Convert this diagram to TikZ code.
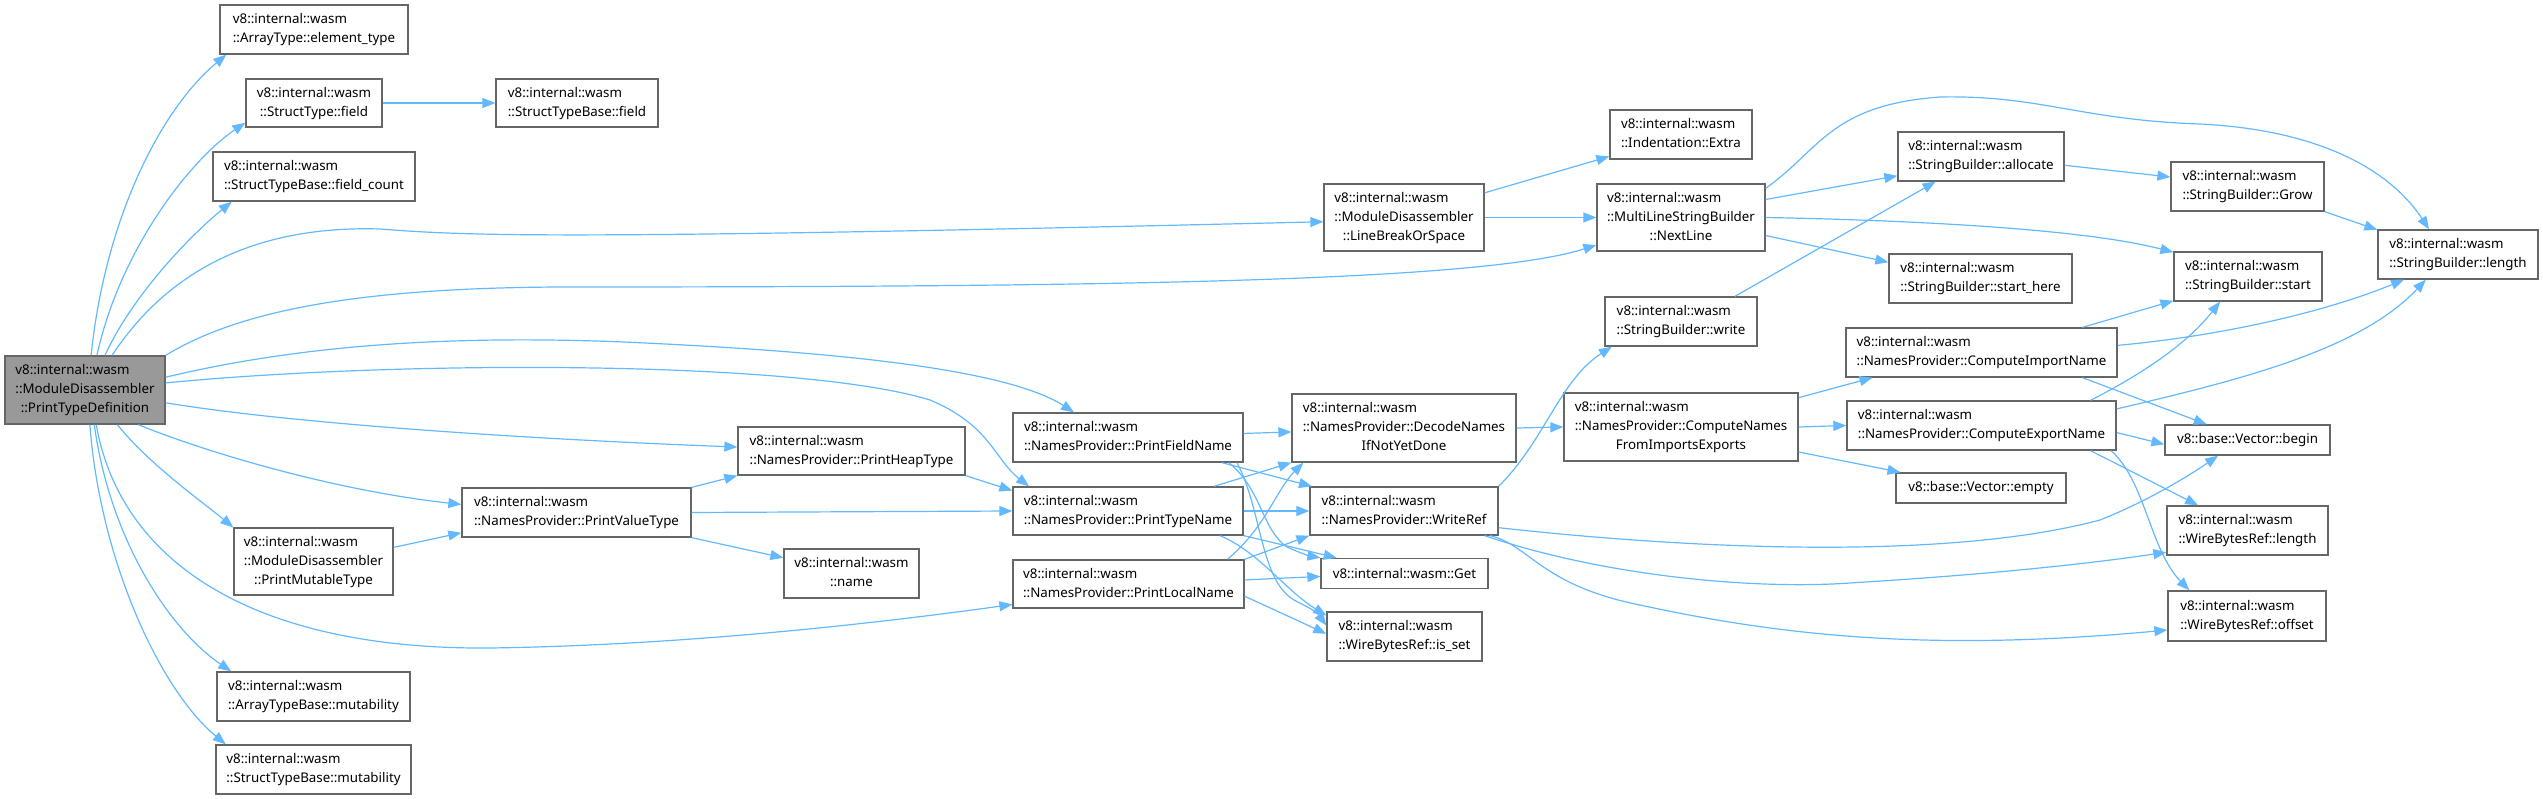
\documentclass[tikz,border=0pt]{standalone}
\usepackage{fontspec}
\setmainfont{Noto Sans}
\usetikzlibrary{arrows.meta}
\definecolor{edgec}{HTML}{63B8FF}
\definecolor{boxc}{HTML}{666666}
\definecolor{mainfill}{HTML}{999999}
\newcommand\lab[2]{\begin{tabular}{@{}l@{}}#1\\\multicolumn{1}{@{}c@{}}{#2}\end{tabular}}
\newcommand\vw{v8::internal::wasm}
\tikzset{
  box/.style={draw=boxc, line width=1.3pt, fill=white, inner sep=0pt, anchor=center,
    font=\fontsize{13.33}{19}\selectfont},
  sz/.style 2 args={minimum width=#1pt, minimum height=#2pt},
  ed/.style={draw=edgec, line width=1.2pt, -{Triangle[length=13pt,width=10pt]}},
}
\begin{document}
\begin{tikzpicture}[x=1pt,y=-1pt]
\useasboundingbox (0,0) rectangle (2543,799);
% nodes
\node[box, sz={160}{68}, fill=mainfill] (main) at (85,390) {\lab{\vw\\::ModuleDisassembler}{::PrintTypeDefinition}};
\node[box, sz={188}{49}] (elem) at (314,29.5) {\lab{\vw}{::ArrayType::element\_type}};
\node[box, sz={136}{48}] (stfield) at (314,103) {\lab{\vw}{::StructType::field}};
\node[box, sz={162}{48}] (stbfield) at (577,103) {\lab{\vw}{::StructTypeBase::field}};
\node[box, sz={202}{49}] (fcount) at (314,176.5) {\lab{\vw}{::StructTypeBase::field\_count}};
\node[box, sz={159}{67}] (pmut) at (313.5,561.5) {\lab{\vw\\::ModuleDisassembler}{::PrintMutableType}};
\node[box, sz={193}{49}] (amut) at (313.5,696.5) {\lab{\vw}{::ArrayTypeBase::mutability}};
\node[box, sz={195}{49}] (smut) at (313.5,769.5) {\lab{\vw}{::StructTypeBase::mutability}};
\node[box, sz={229}{49}] (pvt) at (576.5,512.5) {\lab{\vw}{::NamesProvider::PrintValueType}};
\node[box, sz={227}{48}] (pht) at (851.5,451) {\lab{\vw}{::NamesProvider::PrintHeapType}};
\node[box, sz={135}{49}] (name) at (851.5,573.5) {\lab{\vw}{::name}};
\node[box, sz={230}{49}] (pfn) at (1128,437.5) {\lab{\vw}{::NamesProvider::PrintFieldName}};
\node[box, sz={230}{48}] (ptn) at (1128,511) {\lab{\vw}{::NamesProvider::PrintTypeName}};
\node[box, sz={231}{48}] (pln) at (1128.5,584) {\lab{\vw}{::NamesProvider::PrintLocalName}};
\node[box, sz={160}{67}] (lbos) at (1404,217.5) {\lab{\vw\\::ModuleDisassembler}{::LineBreakOrSpace}};
\node[box, sz={224}{68}] (dnames) at (1404,428) {\lab{\vw\\::NamesProvider::DecodeNames}{IfNotYetDone}};
\node[box, sz={188}{48}] (wref) at (1404,511) {\lab{\vw}{::NamesProvider::WriteRef}};
\node[box, sz={167}{30}] (get) at (1404.5,573.5) {v8::internal::wasm::Get};
\node[box, sz={155}{49}] (isset) at (1404.5,636.5) {\lab{\vw}{::WireBytesRef::is\_set}};
\node[box, sz={142}{49}] (extra) at (1681,134.5) {\lab{\vw}{::Indentation::Extra}};
\node[box, sz={168}{67}] (nextline) at (1681,217.5) {\lab{\vw\\::MultiLineStringBuilder}{::NextLine}};
\node[box, sz={152}{49}] (write) at (1681,321.5) {\lab{\vw}{::StringBuilder::write}};
\node[box, sz={234}{68}] (cnfie) at (1681,427) {\lab{\vw\\::NamesProvider::ComputeNames}{FromImportsExports}};
\node[box, sz={166}{49}] (alloc) at (1981,156.5) {\lab{\vw}{::StringBuilder::allocate}};
\node[box, sz={183}{49}] (starthere) at (1980.5,278.5) {\lab{\vw}{::StringBuilder::start\_here}};
\node[box, sz={271}{49}] (cimp) at (1981.5,352.5) {\lab{\vw}{::NamesProvider::ComputeImportName}};
\node[box, sz={269}{49}] (cexp) at (1981.5,425.5) {\lab{\vw}{::NamesProvider::ComputeExportName}};
\node[box, sz={170}{30}] (empty) at (1981,488) {v8::base::Vector::empty};
\node[box, sz={153}{49}] (grow) at (2247.5,186.5) {\lab{\vw}{::StringBuilder::Grow}};
\node[box, sz={148}{49}] (start) at (2248,276.5) {\lab{\vw}{::StringBuilder::start}};
\node[box, sz={165}{30}] (vbegin) at (2247.5,440) {v8::base::Vector::begin};
\node[box, sz={161}{49}] (wblen) at (2247.5,530.5) {\lab{\vw}{::WireBytesRef::length}};
\node[box, sz={158}{50}] (wboff) at (2247,616) {\lab{\vw}{::WireBytesRef::offset}};
\node[box, sz={160}{49}] (sblen) at (2458,254.5) {\lab{\vw}{::StringBuilder::length}};
% edges from main
\draw[ed] (main.80) .. controls (105,220) and (160,110) .. (elem.196);
\draw[ed] (main.71) .. controls (120,250) and (190,160) .. (stfield.196);
\draw[ed] (main.60) .. controls (130,300) and (185,240) .. (fcount.197);
\draw[ed] (main.52) .. controls (165,275) and (250,225) .. (380,229) .. controls (470,236) and (560,240) .. (lbos.183);
\draw[ed] (main.north east) .. controls (240,310) and (360,288) .. (560,287) .. controls (1100,287) and (1480,282) .. (nextline.198);
\draw[ed] (main.9) .. controls (300,345) and (450,335) .. (624,342) .. controls (800,350) and (1000,365) .. (pfn.155);
\draw[ed] (main.5) .. controls (400,360) and (800,360) .. (930,400) .. controls (990,425) and (995,460) .. (ptn.166);
\draw[ed] (main.-9) .. controls (300,425) and (550,440) .. (pht.178);
\draw[ed] (main.-33) .. controls (200,450) and (330,490) .. (pvt.176);
\draw[ed] (main.-47) .. controls (150,465) and (200,500) .. (pmut.157);
\draw[ed] (main.-72) .. controls (120,560) and (250,650) .. (490,648) .. controls (700,645) and (900,620) .. (pln.190);
\draw[ed] (main.-75) .. controls (110,540) and (170,630) .. (amut.163);
\draw[ed] (main.-82) .. controls (100,560) and (160,690) .. (smut.164);
% left part
\draw[ed] (stfield.east) -- (stbfield.west);
\draw[ed] (pmut.10) -- (pvt.190);
\draw[ed] (pvt.north east) -- (pht.south west);
\draw[ed] (pvt.east) -- (ptn.west);
\draw[ed] (pvt.south east) -- (name.167);
\draw[ed] (pht.south east) -- (ptn.170);
% middle
\draw[ed] (pfn.2) -- (dnames.182);
\draw[ed] (pfn.-15) -- (wref.165);
\draw[ed] (pfn.-14) .. controls (1262,490) and (1262,530) .. (1287,547) .. controls (1300,553) and (1310,556) .. (get.north west);
\draw[ed] (pfn.-13) .. controls (1262,510) and (1260,580) .. (1294,600) .. controls (1305,606) and (1315,610) .. (isset.172);
\draw[ed] (ptn.16) -- (dnames.south west);
\draw[ed] (ptn.east) -- (wref.west);
\draw[ed] (ptn.-12) -- (get.167);
\draw[ed] (ptn.-15) .. controls (1259,552) and (1285,590) .. (isset.165);
\draw[ed] (pln.14) .. controls (1266,527) and (1276,490) .. (dnames.199);
\draw[ed] (pln.12) -- (wref.south west);
\draw[ed] (pln.2) -- (get.182);
\draw[ed] (pln.-6) -- (isset.178);
% right part
\draw[ed] (lbos.17) -- (extra.197);
\draw[ed] (lbos.east) -- (nextline.west);
\draw[ed] (nextline.12) -- (alloc.193);
\draw[ed] (nextline.19) .. controls (1820,150) and (1830,105) .. (1940,97) .. controls (2040,95) and (2080,120) .. (2200,124) .. controls (2320,130) and (2390,170) .. (sblen.139);
\draw[ed] (nextline.east) .. controls (1900,220) and (2080,228) .. (start.162);
\draw[ed] (nextline.-12) -- (starthere.170);
\draw[ed] (write.25) -- (alloc.209);
\draw[ed] (wref.north east) .. controls (1545,440) and (1560,380) .. (write.200);
\draw[ed] (dnames.east) -- (cnfie.west);
\draw[ed] (cnfie.14) -- (cimp.193);
\draw[ed] (cnfie.east) -- (cexp.west);
\draw[ed] (cnfie.-12) -- (empty.169);
\draw[ed] (alloc.-6) -- (grow.173);
\draw[ed] (grow.south east) -- (sblen.163);
\draw[ed] (cimp.14.5) -- (start.198);
\draw[ed] (cimp.3) .. controls (2230,335) and (2330,310) .. (sblen.205);
\draw[ed] (cimp.-14.5) -- (vbegin.159);
\draw[ed] (cexp.13) .. controls (2150,370) and (2190,340) .. (start.222);
\draw[ed] (cexp.7) .. controls (2240,380) and (2360,350) .. (sblen.218);
\draw[ed] (cexp.-3) -- (vbegin.183);
\draw[ed] (cexp.-13) -- (wblen.153);
\draw[ed] (cexp.-11) .. controls (2145,480) and (2150,550) .. (wboff.156);
\draw[ed] (wref.-10) .. controls (1700,550) and (1950,560) .. (2100,520) .. controls (2150,500) and (2190,475) .. (vbegin.208);
\draw[ed] (wref.-17) .. controls (1600,575) and (1750,590) .. (1850,583) .. controls (1980,575) and (2080,565) .. (wblen.195);
\draw[ed] (wref.-16) .. controls (1530,545) and (1540,585) .. (1640,605) .. controls (1800,640) and (1950,650) .. (wboff.190);
\end{tikzpicture}
\end{document}
